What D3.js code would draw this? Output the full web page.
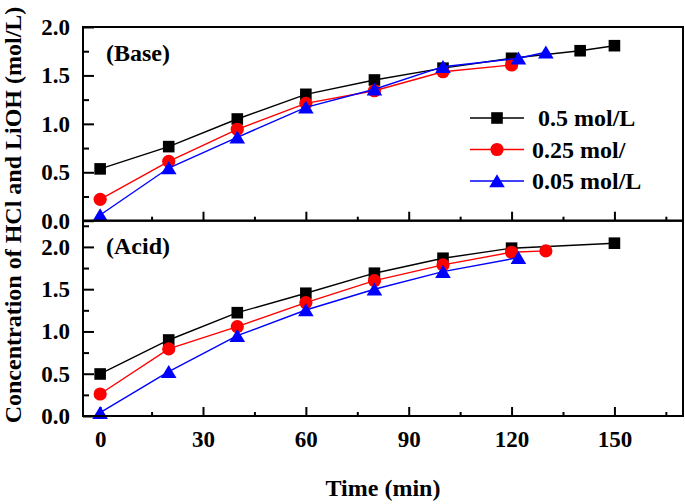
<!DOCTYPE html>
<html>
<head>
<meta charset="utf-8">
<script src="https://cdn.jsdelivr.net/npm/d3@7"></script>
<style>
  html, body { margin: 0; padding: 0; background: #fff; }
  svg text { font-family: "Liberation Serif", "Times New Roman", serif; font-weight: bold; fill: #000; }
</style>
</head>
<body>
<svg id="chart" width="685" height="504"></svg>
<script>
// ---------- data ----------
const seriesNames = [" 0.5 mol/L", "0.25 mol/", "0.05 mol/L"];
const seriesColors = ["#000000", "#ff0000", "#0000ff"];
const seriesShapes = ["square", "circle", "triangle"];

const baseTime05 = [0, 20, 40, 60, 80, 100, 120, 140, 150];
const base05 = [0.535, 0.765, 1.05, 1.305, 1.453, 1.575, 1.677, 1.755, 1.807];
const baseTime025 = [0, 20, 40, 60, 80, 100, 120];
const base025 = [0.221, 0.613, 0.944, 1.212, 1.342, 1.538, 1.608];
const baseTime005 = [0, 20, 40, 60, 80, 100, 122, 130];
const base005 = [0.059, 0.544, 0.861, 1.171, 1.357, 1.59, 1.677, 1.739];

const acidTime05 = [0, 20, 40, 60, 80, 100, 120, 150];
const acid05 = [0.497, 0.899, 1.222, 1.452, 1.689, 1.866, 1.985, 2.044];
const acidTime025 = [0, 20, 40, 60, 80, 100, 120, 130];
const acid025 = [0.26, 0.793, 1.057, 1.341, 1.601, 1.787, 1.937, 1.953];
const acidTime005 = [0, 20, 40, 60, 80, 100, 122];
const acid005 = [0.039, 0.524, 0.95, 1.254, 1.499, 1.708, 1.873];

const xTicks = [0, 30, 60, 90, 120, 150];
const xMinorTicks = [15, 45, 75, 105, 135, 165];
const yTicks = [0.0, 0.5, 1.0, 1.5, 2.0];
const yMinorTicks = [0.25, 0.75, 1.25, 1.75, 2.25];
const panelLabels = ["(Base)", "(Acid)"];
const xTitle = "Time (min)";
const yTitle = "Concentration of HCl and LiOH (mol/L)";

// ---------- layout ----------
const svg = d3.select("#chart");
const left = 83, right = 683;
const topTop = 27, midY = 220.7, botBottom = 416;
const fontSize = 23;

const x = d3.scaleLinear().domain([-5, 170]).range([left, right]);
const yTop = d3.scaleLinear().domain([0, 2.0]).range([midY, topTop]);
const yBot = d3.scaleLinear().domain([0, 2.31]).range([botBottom, midY]);

const panels = [
  { y: yTop, series: [[baseTime05, base05], [baseTime025, base025], [baseTime005, base005]], label: panelLabels[0], labelY: 61, showX: false },
  { y: yBot, series: [[acidTime05, acid05], [acidTime025, acid025], [acidTime005, acid005]], label: panelLabels[1], labelY: 254, showX: true }
];

function symbolPath(shape) {
  if (shape === "square") return "M-5.8,-5.8H5.8V5.8H-5.8Z";
  if (shape === "circle") return d3.arc()({ innerRadius: 0, outerRadius: 6.6, startAngle: 0, endAngle: 2 * Math.PI });
  return "M0,-6.8L7.8,6.3L-7.8,6.3Z";
}

panels.forEach((p, pi) => {
  const y = p.y;
  const y0 = y.range()[0], y1 = y.range()[1];

  // y axis (major, inward)
  const yAx = svg.append("g").attr("transform", `translate(${left},0)`)
    .call(d3.axisLeft(y).tickValues(yTicks).tickFormat(d3.format(".1f")).tickSize(-11).tickPadding(13));
  yAx.select(".domain").remove();
  yAx.selectAll("line").attr("stroke", "#000").attr("stroke-width", 2);
  yAx.selectAll("text").attr("font-size", fontSize).attr("fill", "#000")
     .style("font-family", '"Liberation Serif", serif').style("font-weight", "bold");

  const yMin = svg.append("g").attr("transform", `translate(${left},0)`)
    .call(d3.axisLeft(y).tickValues(yMinorTicks.filter(v => v < y.domain()[1])).tickFormat("").tickSize(-6));
  yMin.select(".domain").remove();
  yMin.selectAll("line").attr("stroke", "#000").attr("stroke-width", 2);

  // x axis (inward)
  const xAx = svg.append("g").attr("transform", `translate(0,${y0})`)
    .call(d3.axisBottom(x).tickValues(xTicks).tickSize(-9).tickPadding(15)
      .tickFormat(p.showX ? d3.format("d") : ""));
  xAx.select(".domain").remove();
  xAx.selectAll("line").attr("stroke", "#000").attr("stroke-width", 2);
  xAx.selectAll("text").attr("font-size", fontSize).attr("fill", "#000")
     .style("font-family", '"Liberation Serif", serif').style("font-weight", "bold");

  const xMin = svg.append("g").attr("transform", `translate(0,${y0})`)
    .call(d3.axisBottom(x).tickValues(xMinorTicks).tickFormat("").tickSize(-4));
  xMin.select(".domain").remove();
  xMin.selectAll("line").attr("stroke", "#000").attr("stroke-width", 2);

  // series
  p.series.forEach((s, si) => {
    const pts = s[0].map((t, i) => [t, s[1][i]]);
    svg.append("path")
      .attr("d", d3.line().x(d => x(d[0])).y(d => y(d[1]))(pts))
      .attr("fill", "none").attr("stroke", seriesColors[si]).attr("stroke-width", 1.4);
    svg.append("g").selectAll("path").data(pts).join("path")
      .attr("transform", d => `translate(${x(d[0])},${y(d[1])})`)
      .attr("d", symbolPath(seriesShapes[si]))
      .attr("fill", seriesColors[si]);
  });

  // frame
  svg.append("rect").attr("x", left).attr("y", y1).attr("width", right - left).attr("height", y0 - y1)
    .attr("fill", "none").attr("stroke", "#000").attr("stroke-width", 2);

  // panel label
  svg.append("text").attr("x", 106).attr("y", p.labelY).attr("font-size", 24).text(p.label);
});

// legend
const legRows = [118, 149.5, 181];
seriesNames.forEach((name, i) => {
  const g = svg.append("g");
  g.append("line").attr("x1", 470).attr("x2", 524).attr("y1", legRows[i]).attr("y2", legRows[i])
    .attr("stroke", seriesColors[i]).attr("stroke-width", 1.4);
  g.append("path").attr("transform", `translate(497,${legRows[i]})`)
    .attr("d", symbolPath(seriesShapes[i])).attr("fill", seriesColors[i]);
  g.append("text").attr("x", 532).attr("y", legRows[i] + 8).attr("font-size", 24)
    .style("white-space", "pre").attr("xml:space", "preserve").text(name);
});

// axis titles
svg.append("text").attr("x", 383).attr("y", 496).attr("text-anchor", "middle")
  .attr("font-size", 24).text(xTitle);
svg.append("text").attr("transform", "translate(21,215) rotate(-90)").attr("text-anchor", "middle")
  .attr("font-size", 24).text(yTitle);
</script>
</body>
</html>
